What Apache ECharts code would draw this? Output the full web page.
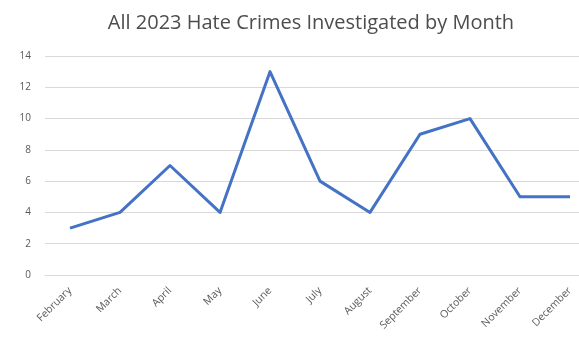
<!DOCTYPE html>
<html>
<head>
<meta charset="utf-8">
<script src="https://cdn.jsdelivr.net/npm/echarts@6/dist/echarts.min.js"></script>
<style>
  html, body { margin: 0; padding: 0; background: #fff; }
  #chart { width: 579px; height: 342px; }
</style>
</head>
<body>
<div id="chart"></div>
<script>
// Monthly counts of investigated hate crimes, 2023
const months = ['February', 'March', 'April', 'May', 'June', 'July', 'August',
  'September', 'October', 'November', 'December'];
const crimes = [3, 4, 7, 4, 13, 6, 4, 9, 10, 5, 5];
const titleText = 'All 2023 Hate Crimes Investigated by Month';

const chart = echarts.init(document.getElementById('chart'));
chart.setOption({
  backgroundColor: '#ffffff',
  animation: false,
  title: {
    text: titleText,
    left: 306,
    textAlign: 'center',
    top: 8,
    textStyle: {
      fontFamily: 'Open Sans',
      fontSize: 20,
      fontWeight: 'normal',
      color: '#4d4d4d'
    }
  },
  grid: { left: 45, top: 56, width: 550, height: 219, outerBoundsMode: 'none', containLabel: false },
  xAxis: {
    type: 'category',
    data: months,
    boundaryGap: true,
    axisLine: { show: true, lineStyle: { color: '#d9d9d9', width: 1 } },
    axisTick: { show: false },
    axisLabel: {
      interval: 0,
      rotate: 45,
      margin: 14,
      fontFamily: 'Open Sans',
      fontSize: 10.5,
      color: '#595959'
    }
  },
  yAxis: {
    type: 'value',
    min: 0,
    max: 14,
    interval: 2,
    axisLine: { show: false },
    axisTick: { show: false },
    splitLine: { lineStyle: { color: '#d9d9d9', width: 1 } },
    axisLabel: {
      margin: 14,
      fontFamily: 'Open Sans',
      fontSize: 10,
      color: '#595959'
    }
  },
  series: [{
    type: 'line',
    data: crimes,
    symbol: 'none',
    lineStyle: { color: '#4472C4', width: 3, join: 'round' },
    itemStyle: { color: '#4472C4' }
  }]
});
</script>
</body>
</html>
